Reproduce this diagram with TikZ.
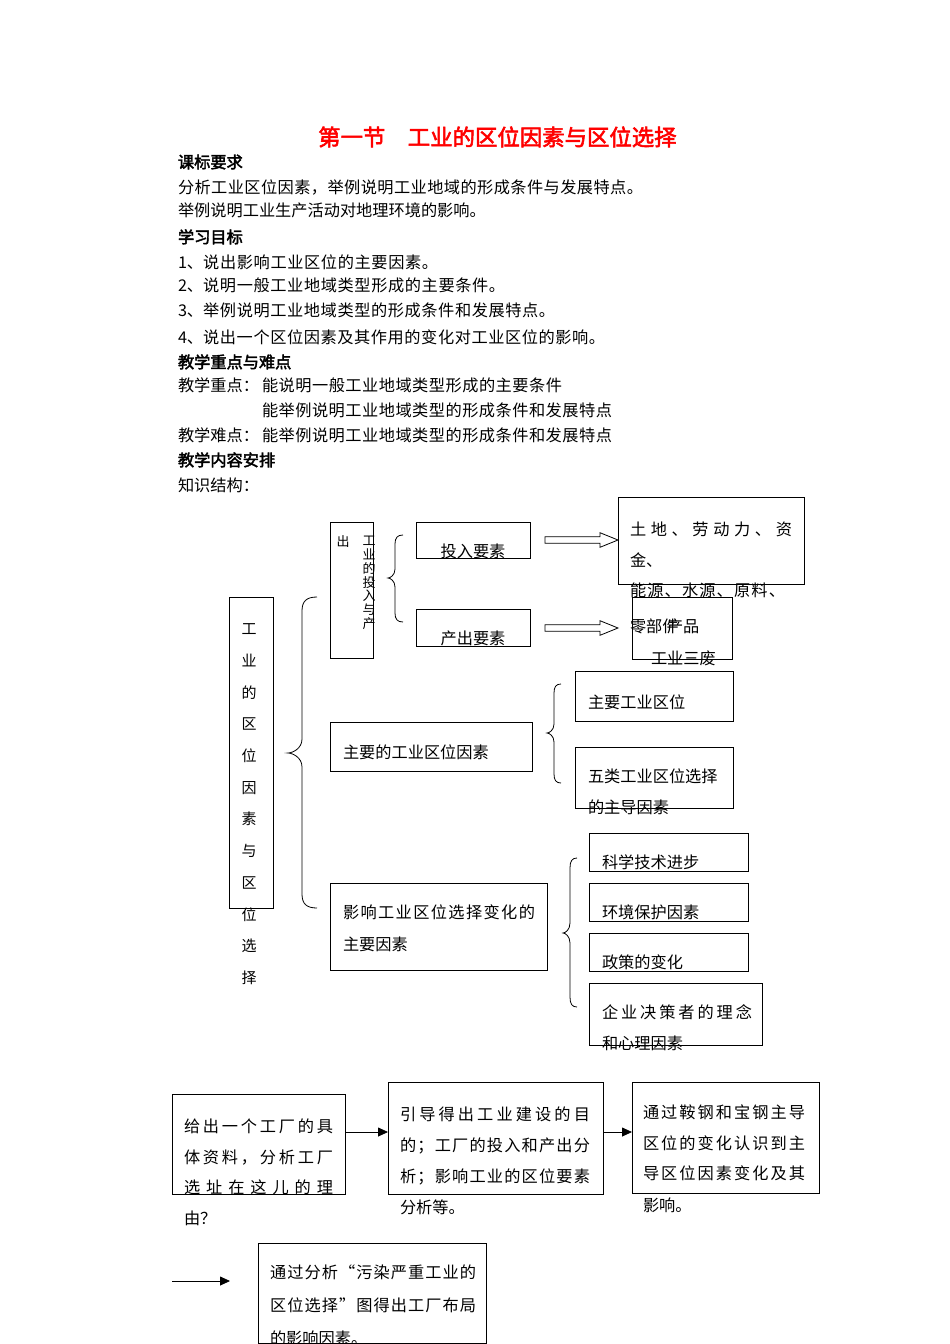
\documentclass[tikz,border=0pt]{standalone}
\usepackage{fontspec}
\setmainfont{Noto Sans CJK SC}
\newfontfamily\cjkbold{Noto Sans CJK SC}[FakeBold=2.5]
\usetikzlibrary{arrows.meta}
\def\jlx#1#2{#1\ifx\relax#2\else\hfil\expandafter\jlx\expandafter#2\fi}
\newcommand\jline[2]{\hbox to #1{\jlx#2\relax}}
\newcounter{tn}
\newcommand\tline[3]{\stepcounter{tn}\node[txt] (t\arabic{tn}) at (#1,{#2+6.1}) {#3};}
\newcommand\mybox[5]{\node[box,minimum width={(#4-#2)*1pt},minimum height={(#5-#3)*1pt}] (#1) at ({(#2+#4)/2},{(#3+#5)/2}) {};}
% brace: tip x, line x, end x, ytop, ymid, ybot, curl
\newcommand\brc[7]{\draw[ln] (#3,#4) .. controls ({#2+0.3*(#3-#2)},#4) and (#2,{#4+0.3*#7}) .. (#2,{#4+#7}) -- (#2,{#5-#7}) .. controls (#2,{#5-0.3*#7}) and ({#1+0.3*(#2-#1)},#5) .. (#1,#5) .. controls ({#1+0.3*(#2-#1)},#5) and (#2,{#5+0.3*#7}) .. (#2,{#5+#7}) -- (#2,{#6-#7}) .. controls (#2,{#6-0.3*#7}) and ({#2+0.3*(#3-#2)},#6) .. (#3,#6);}
\newcommand\harr[1]{\draw[ln] (545,{#1-3.3}) -- (600,{#1-3.3}) -- (600,{#1-7.3}) -- (618,#1) -- (600,{#1+7.3}) -- (600,{#1+3.3}) -- (545,{#1+3.3}) -- cycle;}
\begin{document}
\begin{tikzpicture}[x=1pt,y=-1pt,
  txt/.style={anchor=base west,inner sep=0pt,outer sep=0pt,font=\fontsize{16.2}{16.2}\selectfont},
  box/.style={draw,line width=0.8pt,inner sep=0pt,outer sep=0pt},
  ln/.style={line width=0.8pt},
  arr/.style={line width=0.8pt,-{Triangle[length=10pt,width=9pt]}}]
\useasboundingbox (0,0) rectangle (950,1344);
% title
\node[anchor=base west,inner sep=0pt,text=red,font=\fontsize{22.4}{22.4}\selectfont\cjkbold] (title) at (318,145.5) {第一节　工业的区位因素与区位选择};
% text
\tline{178}{162}{{\cjkbold 课标要求}}
\tline{178}{187}{\jline{465pt}{分析工业区位因素，举例说明工业地域的形成条件与发展特点。}}
\tline{178}{210}{\jline{300pt}{举例说明工业生产活动对地理环境的影响。}}
\tline{178}{237}{{\cjkbold 学习目标}}
\tline{178}{262}{1、\jline{235pt}{说出影响工业区位的主要因素。}}
\tline{178}{285}{2、\jline{302pt}{说明一般工业地域类型形成的主要条件。}}
\tline{178}{310}{3、\jline{352pt}{举例说明工业地域类型的形成条件和发展特点。}}
\tline{178}{337}{4、\jline{402pt}{说出一个区位因素及其作用的变化对工业区位的影响。}}
\tline{178}{362}{{\cjkbold 教学重点与难点}}
\tline{178}{385}{教学重点：}
\tline{262}{385}{\jline{300pt}{能说明一般工业地域类型形成的主要条件}}
\tline{262}{410}{\jline{350pt}{能举例说明工业地域类型的形成条件和发展特点}}
\tline{178}{435}{教学难点：}
\tline{262}{435}{\jline{350pt}{能举例说明工业地域类型的形成条件和发展特点}}
\tline{178}{460}{{\cjkbold 教学内容安排}}
\tline{178}{485}{知识结构：}
% boxes
\mybox{bA}{229}{597}{273}{908}
\mybox{bB}{330}{522}{373}{658}
\mybox{bIn}{416}{522}{530}{558}
\mybox{bOut}{416}{609}{530}{646}
\mybox{bRes}{618}{497}{804}{584}
\mybox{bProd}{632}{597}{732}{659}
\mybox{bMain}{330}{722}{532}{771}
\mybox{bLoc}{575}{671}{733}{721}
\mybox{bFive}{575}{747}{733}{808}
\mybox{bChg}{330}{883}{547}{970}
\mybox{bSci}{589}{833}{748}{871}
\mybox{bEnv}{589}{883}{748}{921}
\mybox{bPol}{589}{933}{748}{971}
\mybox{bEnt}{589}{983}{762}{1045}
\mybox{c1}{172}{1094}{345}{1194}
\mybox{c2}{388}{1082}{603}{1194}
\mybox{c3}{632}{1082}{819}{1193}
\mybox{c4}{258}{1243}{486}{1343}
% vertical text in bA
\foreach \c [count=\i] in {工,业,的,区,位,因,素,与,区,位,选,择}
  \node[txt,anchor=base,font=\fontsize{15}{15}\selectfont] (v\i) at (249,{629+31.7*(\i-1)+5.7}) {\c};
% text in bB
\node[txt,anchor=base,font=\fontsize{13}{13}\selectfont] (bBo) at (343,{542+4.9}) {出};
\foreach \c [count=\i] in {工,业,的,投,入,与,产}
  \node[txt,anchor=base,font=\fontsize{13}{13}\selectfont] (w\i) at (369,{541+13.7*(\i-1)+4.9}) {\c};
% braces
\brc{288}{302}{317}{597}{753}{908}{14}
\brc{388}{395}{403}{535}{578}{622}{9}
\brc{547}{554}{561}{684}{733}{783}{9}
\brc{563}{570}{577}{858}{933}{1007}{10}
% input / output
\node[txt,anchor=base] (tIn) at (473,{551+6.1}) {投入要素};
\node[txt,anchor=base] (tOut) at (473,{638+6.1}) {产出要素};
\harr{540}
\harr{628}
\tline{630}{529}{\jline{162pt}{土地、劳动力、资}}
\tline{630}{560}{金、}
\tline{630}{590}{\jline{155pt}{能源、水源、原料、}}
\tline{630}{626}{零部件}
\tline{667}{626}{产品}
\tline{651}{658}{工业三废}
% main factors
\tline{343}{752}{主要的工业区位因素}
\tline{588}{702}{主要工业区位}
\tline{588}{776}{五类工业区位选择}
\tline{588}{807}{的主导因素}
% change factors
\tline{343}{912}{\jline{192pt}{影响工业区位选择变化的}}
\tline{343}{944}{主要因素}
\tline{602}{862}{科学技术进步}
\tline{602}{912}{环境保护因素}
\tline{602}{962}{政策的变化}
\tline{602}{1012}{\jline{150pt}{企业决策者的理念}}
\tline{602}{1043}{和心理因素}
% bottom flow
\tline{184}{1126}{\jline{149pt}{给出一个工厂的具}}
\tline{184}{1157}{\jline{149pt}{体资料，分析工厂}}
\tline{184}{1187}{\jline{149pt}{选址在这儿的理}}
\tline{184}{1218}{由？}
\tline{400}{1114}{\jline{190pt}{引导得出工业建设的目}}
\tline{400}{1145}{\jline{190pt}{的；工厂的投入和产出分}}
\tline{400}{1176}{\jline{190pt}{析；影响工业的区位要素}}
\tline{400}{1207}{分析等。}
\tline{643}{1112}{\jline{162pt}{通过鞍钢和宝钢主导}}
\tline{643}{1143}{\jline{162pt}{区位的变化认识到主}}
\tline{643}{1173}{\jline{162pt}{导区位因素变化及其}}
\tline{643}{1205}{影响。}
\tline{270}{1272}{\jline{206pt}{通过分析“污染严重工业的}}
\tline{270}{1305}{\jline{206pt}{区位选择”图得出工厂布局}}
\tline{270}{1338}{的影响因素。}
% arrows
\draw[arr] (c1.east |- 0,1132) -- (c2.west |- 0,1132);
\draw[arr] (c2.east |- 0,1132) -- (c3.west |- 0,1132);
\coordinate (a0) at (172,1281);
\coordinate (a1) at (230,1281);
\draw[arr] (a0) -- (a1);
\end{tikzpicture}
\end{document}
